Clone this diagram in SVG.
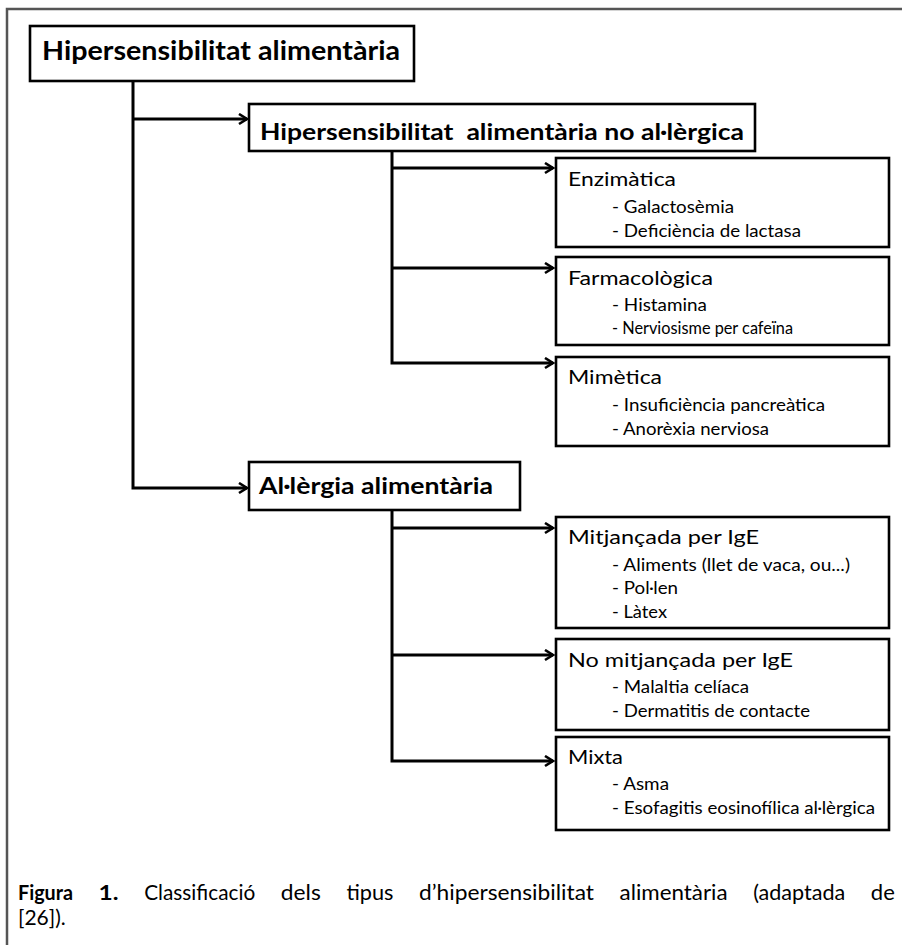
<svg xmlns="http://www.w3.org/2000/svg" width="902" height="945" viewBox="0 0 902 945">
<style>
.box{fill:#fff;stroke:#000;stroke-width:2.6}
.frame{fill:none;stroke:#555;stroke-width:2.5}
.con{fill:none;stroke:#000;stroke-width:3}
text{font-family:Lato,"Open Sans","Liberation Sans",sans-serif;fill:#000}
.h1{font-size:27px;font-weight:bold}
.h2{font-size:23px;font-weight:bold}
.t{font-size:19.5px}
.i{font-size:16.5px}
.c{font-size:21px}
.cb{font-size:21px;font-weight:bold}
</style>
<defs>
<marker id="arr" markerUnits="userSpaceOnUse" markerWidth="12" markerHeight="14" refX="9" refY="6" orient="auto">
<path d="M1,1 L9,6 L1,11" fill="none" stroke="#000" stroke-width="2.6"/>
</marker>
</defs>
<rect width="902" height="945" fill="#fff"/>
<path class="frame" d="M7,945 L7,9 L902,9"/>
<g id="connectors">
<path class="con" d="M133,81 L133,488 L247,488" marker-end="url(#arr)"/>
<path class="con" d="M133,119 L247,119" marker-end="url(#arr)"/>
<path class="con" d="M392,151 L392,363 L553,363" marker-end="url(#arr)"/>
<path class="con" d="M392,168 L553,168" marker-end="url(#arr)"/>
<path class="con" d="M392,268 L553,268" marker-end="url(#arr)"/>
<path class="con" d="M392,510 L392,761 L553,761" marker-end="url(#arr)"/>
<path class="con" d="M392,528 L553,528" marker-end="url(#arr)"/>
<path class="con" d="M392,655 L553,655" marker-end="url(#arr)"/>
</g>
<g id="root">
<rect class="box" x="30" y="26" width="384" height="55"/>
<text class="h1" x="42" y="60" textLength="358" lengthAdjust="spacingAndGlyphs">Hipersensibilitat alimentària</text>
</g>
<g id="noallergica">
<rect class="box" x="249" y="104" width="506" height="47"/>
<text class="h2" x="260" y="140" textLength="484" lengthAdjust="spacingAndGlyphs" xml:space="preserve">Hipersensibilitat  alimentària no al·lèrgica</text>
</g>
<g id="allergia">
<rect class="box" x="249" y="462" width="271" height="48"/>
<text class="h2" x="259" y="494" textLength="234" lengthAdjust="spacingAndGlyphs">Al·lèrgia alimentària</text>
</g>
<g id="enzimatica">
<rect class="box" x="556" y="158" width="333" height="89"/>
<text class="t" x="568" y="186" textLength="108" lengthAdjust="spacingAndGlyphs">Enzimàtica</text>
<text class="i" x="612" y="213" textLength="122" lengthAdjust="spacingAndGlyphs">- Galactosèmia</text>
<text class="i" x="612" y="237" textLength="189" lengthAdjust="spacingAndGlyphs">- Deficiència de lactasa</text>
</g>
<g id="farmacologica">
<rect class="box" x="556" y="257" width="333" height="88"/>
<text class="t" x="568" y="285" textLength="145" lengthAdjust="spacingAndGlyphs">Farmacològica</text>
<text class="i" x="612" y="311" textLength="95" lengthAdjust="spacingAndGlyphs">- Histamina</text>
<text class="i" x="612" y="334" textLength="181" lengthAdjust="spacingAndGlyphs">- Nerviosisme per cafeïna</text>
</g>
<g id="mimetica">
<rect class="box" x="556" y="357" width="333" height="89"/>
<text class="t" x="568" y="384" textLength="94" lengthAdjust="spacingAndGlyphs">Mimètica</text>
<text class="i" x="612" y="411" textLength="213" lengthAdjust="spacingAndGlyphs">- Insuficiència pancreàtica</text>
<text class="i" x="612" y="435" textLength="157" lengthAdjust="spacingAndGlyphs">- Anorèxia nerviosa</text>
</g>
<g id="mitjancada">
<rect class="box" x="556" y="517" width="333" height="111"/>
<text class="t" x="568" y="544" textLength="191" lengthAdjust="spacingAndGlyphs">Mitjançada per IgE</text>
<text class="i" x="612" y="571" textLength="238" lengthAdjust="spacingAndGlyphs">- Aliments (llet de vaca, ou...)</text>
<text class="i" x="612" y="594" textLength="66" lengthAdjust="spacingAndGlyphs">- Pol·len</text>
<text class="i" x="612" y="618" textLength="55" lengthAdjust="spacingAndGlyphs">- Làtex</text>
</g>
<g id="nomitjancada">
<rect class="box" x="556" y="639" width="333" height="91"/>
<text class="t" x="568" y="667" textLength="225" lengthAdjust="spacingAndGlyphs">No mitjançada per IgE</text>
<text class="i" x="612" y="693" textLength="137" lengthAdjust="spacingAndGlyphs">- Malaltia celíaca</text>
<text class="i" x="612" y="717" textLength="198" lengthAdjust="spacingAndGlyphs">- Dermatitis de contacte</text>
</g>
<g id="mixta">
<rect class="box" x="556" y="737" width="333" height="93"/>
<text class="t" x="568" y="764" textLength="55" lengthAdjust="spacingAndGlyphs">Mixta</text>
<text class="i" x="612" y="790" textLength="57" lengthAdjust="spacingAndGlyphs">- Asma</text>
<text class="i" x="612" y="814" textLength="263" lengthAdjust="spacingAndGlyphs">- Esofagitis eosinofílica al·lèrgica</text>
</g>
<g id="caption">
<text class="cb" x="18" y="900" textLength="55" lengthAdjust="spacingAndGlyphs">Figura</text>
<text class="cb" x="98.6" y="900" textLength="20" lengthAdjust="spacingAndGlyphs">1.</text>
<text class="c" x="144.2" y="900" textLength="111" lengthAdjust="spacingAndGlyphs">Classificació</text>
<text class="c" x="280.8" y="900" textLength="40" lengthAdjust="spacingAndGlyphs">dels</text>
<text class="c" x="346.4" y="900" textLength="47" lengthAdjust="spacingAndGlyphs">tipus</text>
<text class="c" x="419" y="900" textLength="175" lengthAdjust="spacingAndGlyphs">d’hipersensibilitat</text>
<text class="c" x="619.6" y="900" textLength="108" lengthAdjust="spacingAndGlyphs">alimentària</text>
<text class="c" x="753.2" y="900" textLength="92" lengthAdjust="spacingAndGlyphs">(adaptada</text>
<text class="c" x="870.8" y="900" textLength="24" lengthAdjust="spacingAndGlyphs">de</text>
<text class="c" x="18" y="925">[26]).</text>
</g>
</svg>
